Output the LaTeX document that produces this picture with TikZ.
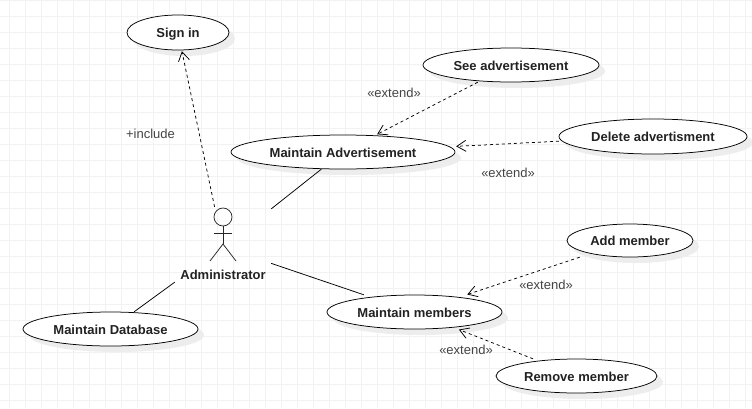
\documentclass[tikz,border=0pt]{standalone}
\usepackage{fontspec}
\setmainfont{Liberation Sans}
\usetikzlibrary{shapes.geometric,shadows,arrows.meta}
\definecolor{gridc}{HTML}{F2F2F2}
\definecolor{shadowc}{HTML}{ECECEC}
\definecolor{labc}{HTML}{444444}
\definecolor{txtc}{HTML}{222222}
\tikzset{
  usecase/.style={ellipse,draw=black,line width=0.75pt,fill=white,inner sep=0pt,
    font=\fontsize{13}{15}\selectfont\bfseries,text=txtc,text height=11pt,text depth=1pt,
    drop shadow={shadow xshift=6pt,shadow yshift=-6pt,fill=shadowc,opacity=0.9}},
  ucbox/.style={rectangle,inner sep=0pt},
  lab/.style={font=\fontsize{13}{15}\selectfont,text=labc,inner sep=0pt,anchor=base},
  assoc/.style={draw=black,line width=0.75pt},
  depend/.style={draw=black,line width=0.75pt,dash pattern=on 3pt off 3pt,
    -{Straight Barb[length=9pt,width=11pt,line width=0.75pt]},shorten >=1pt},
  stick/.style={draw=black!85,line width=0.75pt},
}
% name, centre, width, height, text: an ellipse and its invisible bounding box, at which connectors stop
\newcommand{\ucase}[5]{%
  \node[ucbox,minimum width=#3pt,minimum height=#4pt] (#1box) at (#2) {};
  \node[usecase,minimum width=#3pt,minimum height=#4pt] (#1) at (#2) {#5};
}
\begin{document}
\begin{tikzpicture}[x=1pt,y=-1pt]
\useasboundingbox (0,0) rectangle (752,408);
\fill[white] (0,0) rectangle (752,408);
\foreach \gx in {9,25,...,745} {\draw[gridc,line width=0.7pt] (\gx,0) -- (\gx,408);}
\foreach \gy in {0.5,16.5,...,405} {\draw[gridc,line width=0.7pt] (0,\gy) -- (752,\gy);}

\ucase{signin}{178,32.5}{102}{35}{Sign in}
\ucase{see}{511,65}{176}{34}{See advertisement}
\ucase{del}{653,136.5}{188}{35}{Delete advertisment}
\ucase{adv}{343,152}{224}{34}{Maintain Advertisement}
\ucase{add}{630,240.5}{126}{33}{Add member}
\ucase{mem}{414.5,312}{175}{34}{Maintain members}
\ucase{rem}{576.5,376}{161}{34}{Remove member}
\ucase{db}{110.5,329}{175}{34}{Maintain Database}

% actor
\node[minimum width=96pt,minimum height=80pt,inner sep=0pt] (actor) at (223,247) {};
\node[circle,stick,minimum size=18pt,inner sep=0pt] (head) at (223,217) {};
\coordinate (hip) at (223,244);
\coordinate (armL) at (214,233);
\coordinate (armR) at (232,233);
\coordinate (legL) at (210,261);
\coordinate (legR) at (236,261);
\draw[stick] (head) -- (hip);
\draw[stick] (armL) -- (armR);
\draw[stick] (legL) -- (hip) -- (legR);
\node[font=\fontsize{13}{15}\selectfont\bfseries,text=txtc,inner sep=0pt,anchor=base] (admin) at (223,279) {Administrator};

% connectors
\draw[depend] (actor) -- (signinbox);
\draw[assoc] (actor) -- (advbox);
\draw[assoc] (actor) -- (membox);
\draw[assoc] (actor) -- (dbbox);
\draw[depend] (seebox) -- (advbox);
\draw[depend] (delbox) -- (advbox);
\draw[depend] (addbox) -- (membox);
\draw[depend] (rembox) -- (membox);

% labels
\node[lab] (l1) at (150.5,138) {+include};
\node[lab] (l2) at (394,97) {«extend»};
\node[lab] (l3) at (508,177) {«extend»};
\node[lab] (l4) at (546,289) {«extend»};
\node[lab] (l5) at (466,354) {«extend»};
\end{tikzpicture}
\end{document}
